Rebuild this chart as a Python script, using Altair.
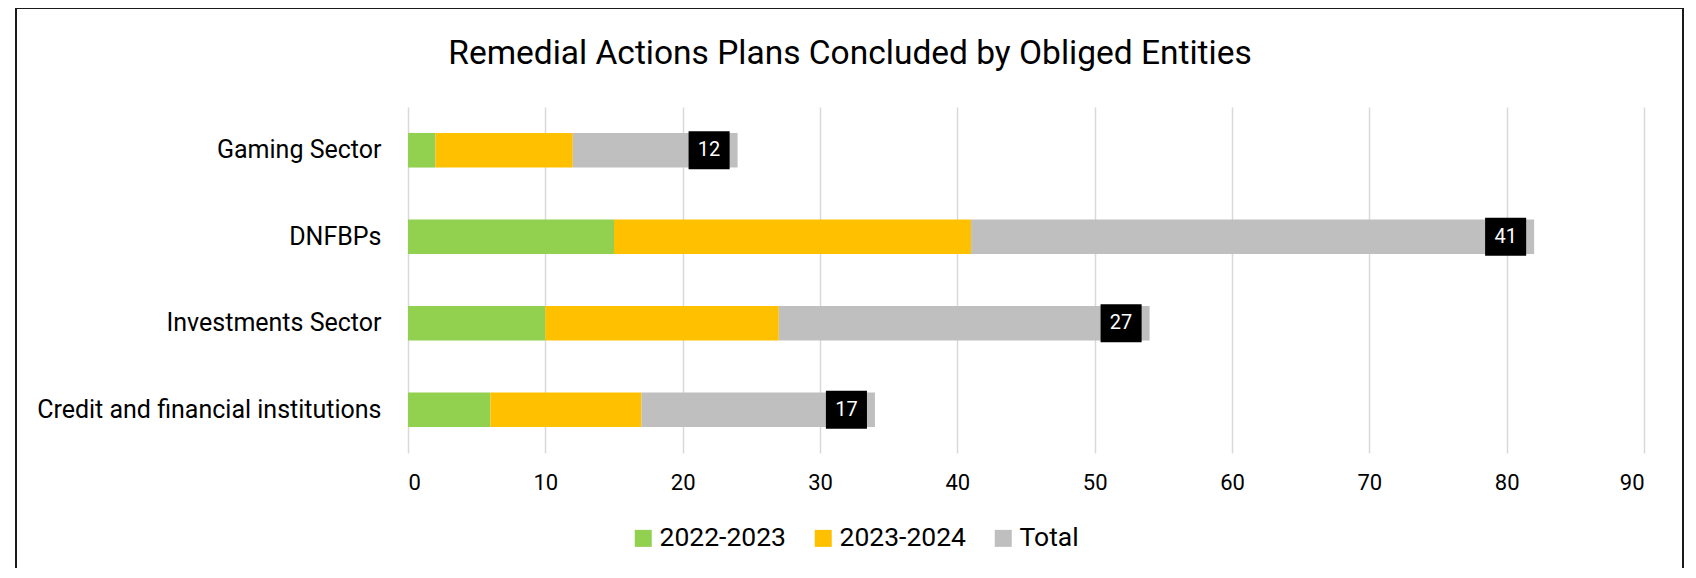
import altair as alt
import pandas as pd

categories = ["Gaming Sector", "DNFBPs", "Investments Sector ", "Credit and financial institutions"]
series = ["2022-2023", "2023-2024", "Total"]
v_2022_2023 = [2, 15, 10, 6]
v_2023_2024 = [10, 26, 17, 11]
v_total = [12, 41, 27, 17]
colors = ["#92D050", "#FFC000", "#BFBFBF"]
x_ticks = [0, 10, 20, 30, 40, 50, 60, 70, 80, 90]

rows = []
for i, c in enumerate(categories):
    for j, (s, vals) in enumerate(zip(series, [v_2022_2023, v_2023_2024, v_total])):
        rows.append({"category": c, "series": s, "value": vals[i], "order": j})
df = pd.DataFrame(rows)

FONT = "Roboto"

base = alt.Chart(df)

y_enc = alt.Y("category:N", sort=categories, title=None,
              scale=alt.Scale(paddingInner=0.6, paddingOuter=0.3),
              axis=alt.Axis(domain=False, ticks=False, tickSize=0, labelPadding=27,
                            labelFontSize=25, labelColor="#000000", labelFont=FONT,
                            labelLimit=500))

bars = base.mark_bar().encode(
    x=alt.X("sum(value):Q", title=None,
            scale=alt.Scale(domain=[0, 90], nice=False),
            axis=alt.Axis(values=x_ticks, domain=False, ticks=False, tickSize=0,
                          grid=True, gridColor="#D9D9D9", gridWidth=1.5,
                          labelPadding=19, labelFontSize=22, labelColor="#000000",
                          labelFont=FONT)),
    y=y_enc,
    color=alt.Color("series:N", sort=series,
                    scale=alt.Scale(domain=series, range=colors),
                    legend=alt.Legend(title=None, orient="none", direction="horizontal",
                                      legendX=222, legendY=418,
                                      symbolType="square", symbolSize=289,
                                      symbolStrokeWidth=0, symbolOpacity=1,
                                      labelFontSize=26.5, labelFont=FONT,
                                      labelColor="#000000", labelOffset=3,
                                      columnPadding=24)),
    order=alt.Order("order:Q", sort="ascending"),
)

label_base = base.transform_joinaggregate(
    end="sum(value)", groupby=["category"]
).transform_filter(alt.datum.series == "Total")

boxes = label_base.mark_point(
    shape="M-1.08,-1 L1.08,-1 L1.08,1 L-1.08,1 Z", filled=True, size=1444,
    color="#000000", opacity=1, xOffset=-28.5
).encode(
    x=alt.X("end:Q"),
    y=alt.Y("category:N", sort=categories),
)

texts = label_base.mark_text(
    color="#FFFFFF", fontSize=20, font=FONT, align="center", baseline="middle",
    xOffset=-28.5
).encode(
    x=alt.X("end:Q"),
    y=alt.Y("category:N", sort=categories),
    text=alt.Text("value:Q"),
)

frame = alt.Chart(pd.DataFrame({"f": [0]})).mark_rect(
    filled=False, stroke="#1a1a1a", strokeWidth=2
).encode(
    x=alt.value(-392), x2=alt.value(1275), y=alt.value(-99), y2=alt.value(600)
)

chart = alt.layer(frame, bars, boxes, texts).properties(
    width=1236, height=346,
    autosize=alt.AutoSizeParams(type="none"),
    padding={"left": 400, "top": 99, "right": 40, "bottom": 115},
    title=alt.TitleParams("Remedial Actions Plans Concluded by Obliged Entities",
                          fontSize=33.5, font=FONT, fontWeight="normal",
                          color="#000000", anchor="middle", dx=-176, offset=-64),
).configure_view(stroke=None)

chart.save("out.html", embed_options={"renderer": "svg", "actions": False})
